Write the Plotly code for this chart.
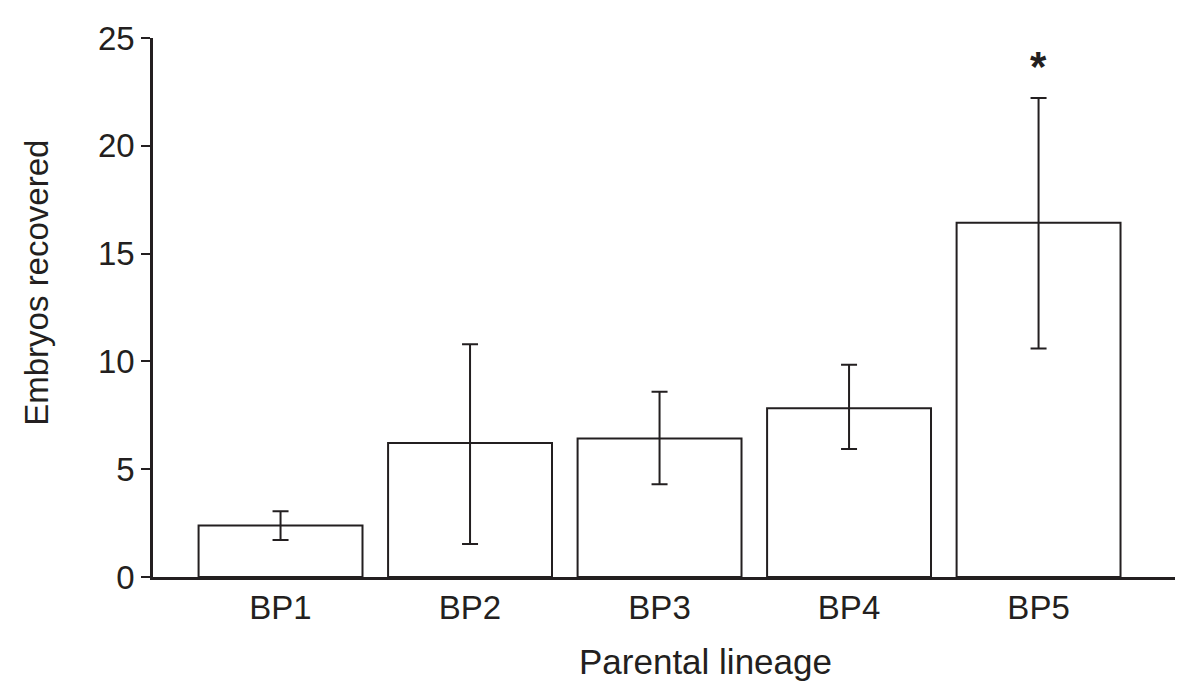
import plotly.graph_objects as go

categories = ["BP1", "BP2", "BP3", "BP4", "BP5"]
means = [2.39, 6.21, 6.42, 7.83, 16.43]
upper = [3.05, 10.79, 8.59, 9.85, 22.22]
lower = [1.72, 1.53, 4.30, 5.94, 10.60]
y_ticks = [0, 5, 10, 15, 20, 25]
signif_label = "*"
signif_index = 4
signif_y = 23.7

INK = "#231f20"
FONT = "Liberation Sans, Arial, Helvetica, sans-serif"

err_plus = [u - m for u, m in zip(upper, means)]
err_minus = [m - l for m, l in zip(means, lower)]

fig = go.Figure()
fig.add_trace(go.Bar(
    x=list(range(len(categories))),
    y=means,
    width=0.865,
    marker=dict(color="white", line=dict(color=INK, width=2)),
    error_y=dict(type="data", symmetric=False, array=err_plus, arrayminus=err_minus,
                 color=INK, thickness=2, width=8),
    showlegend=False,
))

fig.add_annotation(x=signif_index, y=signif_y, xref="x", yref="y", text="<b>" + signif_label + "</b>",
                   showarrow=False, font=dict(family=FONT, size=42, color=INK),
                   yanchor="middle")

fig.add_annotation(x=(705 - 153) / 1022, y=-(662 - 577) / 544, xref="paper", yref="paper",
                   text="Parental lineage", showarrow=False,
                   font=dict(family=FONT, size=35, color=INK),
                   xanchor="center", yanchor="middle")
fig.add_annotation(x=-(153 - 37) / 1022, y=(577 - 280) / 544, xref="paper", yref="paper",
                   text="Embryos recovered", showarrow=False, textangle=-90,
                   font=dict(family=FONT, size=33, color=INK),
                   xanchor="center", yanchor="middle")

fig.update_layout(
    width=1200, height=700,
    margin=dict(l=145, r=33, t=25, b=131),
    paper_bgcolor="white", plot_bgcolor="white",
    font=dict(family=FONT, color=INK),
)
fig.update_xaxes(
    range=[-0.673, 4.72],
    tickmode="array", tickvals=list(range(len(categories))), ticktext=categories,
    showline=True, linecolor=INK, linewidth=2.5,
    ticks="", showgrid=False, zeroline=False,
    tickfont=dict(family=FONT, size=33, color=INK),
)
fig.update_yaxes(
    range=[0, 25],
    tickmode="array", tickvals=y_ticks,
    showline=True, linecolor=INK, linewidth=2.5,
    ticks="outside", ticklen=9, tickwidth=2, tickcolor=INK,
    showgrid=False, zeroline=False,
    tickfont=dict(family=FONT, size=33, color=INK),
)

fig.write_html("out.html")
